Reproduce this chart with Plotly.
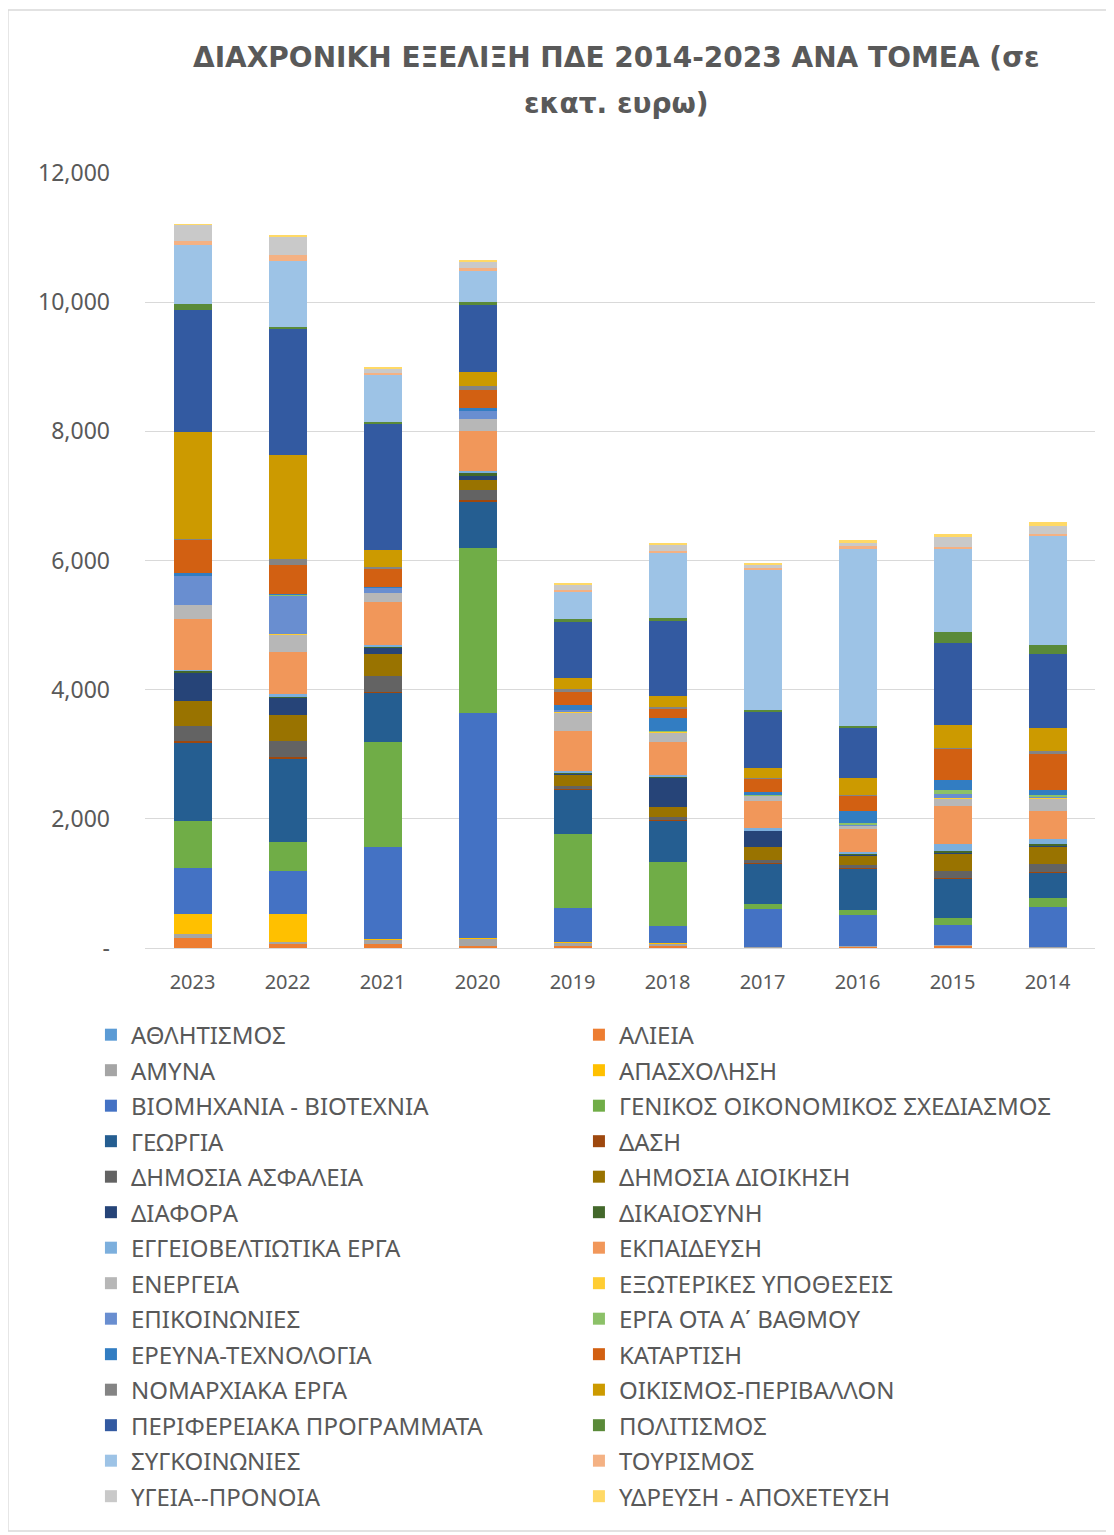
import plotly.graph_objects as go

years = ["2023", "2022", "2021", "2020", "2019", "2018", "2017", "2016", "2015", "2014"]

athlitismos = [5, 5, 3, 3, 3, 3, 5, 3, 5, 3]
alieia = [155, 52, 52, 26, 26, 41, 10, 26, 41, 10]
amyna = [62, 36, 77, 119, 62, 26, 5, 5, 5, 5]
apasxolisi = [310, 439, 10, 10, 5, 5, 3, 3, 3, 3]
viomixania = [700, 660, 1429, 3478, 516, 258, 583, 480, 299, 614]
genikos = [733, 449, 1620, 2559, 1150, 991, 72, 77, 119, 144]
georgia = [1213, 1295, 759, 707, 686, 645, 635, 640, 609, 387]
dasi = [25, 25, 15, 31, 20, 10, 10, 10, 10, 10]
dim_asfaleia = [232, 243, 248, 155, 41, 52, 41, 41, 108, 119]
dim_dioikisi = [382, 408, 341, 165, 165, 160, 206, 144, 268, 284]
diafora = [454, 258, 93, 52, 31, 449, 243, 20, 15, 15]
dikaiosyni = [25, 31, 20, 62, 20, 20, 5, 10, 26, 10]
eggeiovelt = [15, 25, 20, 15, 20, 26, 36, 31, 103, 83]
ekpaidefsi = [780, 655, 676, 619, 614, 500, 428, 346, 583, 433]
energeia = [222, 273, 134, 191, 284, 155, 77, 57, 119, 186]
exoterikes = [5, 5, 5, 5, 26, 5, 3, 5, 5, 31]
epikoinonies = [449, 604, 77, 129, 20, 5, 5, 5, 67, 5]
erga_ota = [5, 5, 3, 3, 3, 3, 3, 36, 67, 20]
erevna = [30, 20, 15, 26, 72, 201, 52, 181, 144, 88]
katartisi = [526, 449, 268, 289, 201, 155, 196, 248, 500, 557]
nomarxiaka = [5, 88, 41, 52, 41, 15, 20, 5, 5, 36]
oikismos = [1662, 1610, 253, 217, 181, 170, 144, 253, 346, 361]
perifereiaka = [1889, 1950, 1950, 1058, 862, 1176, 867, 779, 1275, 1150]
politismos = [88, 36, 36, 26, 41, 41, 36, 31, 175, 139]
sygkoinonies = [918, 1022, 728, 490, 423, 1011, 2167, 2755, 1275, 1687]
tourismos = [52, 93, 26, 36, 26, 31, 31, 26, 36, 36]
ygeia = [258, 279, 77, 113, 83, 88, 62, 52, 155, 119]
ydrefsi = [10, 20, 20, 15, 20, 15, 15, 41, 46, 67]

y_tickvals = [0, 2000, 4000, 6000, 8000, 10000, 12000]
y_ticktext = ["-", "2,000", "4,000", "6,000", "8,000", "10,000", "12,000"]

series = [
    ("ΑΘΛΗΤΙΣΜΟΣ", athlitismos, "#5B9BD5"),
    ("ΑΛΙΕΙΑ", alieia, "#ED7D31"),
    ("ΑΜΥΝΑ", amyna, "#A5A5A5"),
    ("ΑΠΑΣΧΟΛΗΣΗ", apasxolisi, "#FFC000"),
    ("ΒΙΟΜΗΧΑΝΙΑ - ΒΙΟΤΕΧΝΙΑ", viomixania, "#4472C4"),
    ("ΓΕΝΙΚΟΣ ΟΙΚΟΝΟΜΙΚΟΣ ΣΧΕΔΙΑΣΜΟΣ", genikos, "#70AD47"),
    ("ΓΕΩΡΓΙΑ", georgia, "#255E91"),
    ("ΔΑΣΗ", dasi, "#9E480E"),
    ("ΔΗΜΟΣΙΑ ΑΣΦΑΛΕΙΑ", dim_asfaleia, "#636363"),
    ("ΔΗΜΟΣΙΑ ΔΙΟΙΚΗΣΗ", dim_dioikisi, "#997300"),
    ("ΔΙΑΦΟΡΑ", diafora, "#264478"),
    ("ΔΙΚΑΙΟΣΥΝΗ", dikaiosyni, "#43682B"),
    ("ΕΓΓΕΙΟΒΕΛΤΙΩΤΙΚΑ ΕΡΓΑ", eggeiovelt, "#7CAFDD"),
    ("ΕΚΠΑΙΔΕΥΣΗ", ekpaidefsi, "#F1975A"),
    ("ΕΝΕΡΓΕΙΑ", energeia, "#B7B7B7"),
    ("ΕΞΩΤΕΡΙΚΕΣ ΥΠΟΘΕΣΕΙΣ", exoterikes, "#FFCD33"),
    ("ΕΠΙΚΟΙΝΩΝΙΕΣ", epikoinonies, "#698ED0"),
    ("ΕΡΓΑ ΟΤΑ Α΄ ΒΑΘΜΟΥ", erga_ota, "#8CC168"),
    ("ΕΡΕΥΝΑ-ΤΕΧΝΟΛΟΓΙΑ", erevna, "#327DC2"),
    ("ΚΑΤΑΡΤΙΣΗ", katartisi, "#D26012"),
    ("ΝΟΜΑΡΧΙΑΚΑ ΕΡΓΑ", nomarxiaka, "#848484"),
    ("ΟΙΚΙΣΜΟΣ-ΠΕΡΙΒΑΛΛΟΝ", oikismos, "#CC9A00"),
    ("ΠΕΡΙΦΕΡΕΙΑΚΑ ΠΡΟΓΡΑΜΜΑΤΑ", perifereiaka, "#335AA1"),
    ("ΠΟΛΙΤΙΣΜΟΣ", politismos, "#5A8A39"),
    ("ΣΥΓΚΟΙΝΩΝΙΕΣ", sygkoinonies, "#9DC3E6"),
    ("ΤΟΥΡΙΣΜΟΣ", tourismos, "#F4B183"),
    ("ΥΓΕΙΑ--ΠΡΟΝΟΙΑ", ygeia, "#C9C9C9"),
    ("ΥΔΡΕΥΣΗ - ΑΠΟΧΕΤΕΥΣΗ", ydrefsi, "#FFD966"),
]

FONT = "Noto Sans"
TXT = "#595959"

fig = go.Figure()
for name, vals, col in series:
    fig.add_trace(go.Bar(
        x=years, y=vals, name='<span style="font-size:24px">' + name + '</span>',
        marker=dict(color=col, line=dict(width=0)),
    ))

# plot area in reference pixels: x 145..1095, y 173..948 (page body has an 8px margin)
fig.update_layout(
    width=1106, height=1527,
    barmode="stack", bargap=0.6,
    paper_bgcolor="white", plot_bgcolor="white",
    margin=dict(l=137, r=19, t=165, b=587, autoexpand=False),
    font=dict(family=FONT, color=TXT),
    showlegend=True,
    legend=dict(
        orientation="h", traceorder="normal",
        x=-0.0569, xanchor="left", y=-0.0825, yanchor="top",
        entrywidth=443, entrywidthmode="pixels",
        font=dict(family=FONT, size=25, color=TXT),
        bgcolor="rgba(0,0,0,0)",
    ),
    xaxis=dict(
        type="category", showgrid=False, showline=True, linecolor="#D9D9D9", linewidth=1.3,
        ticks="", tickfont=dict(family=FONT, size=20, color=TXT), ticklabelstandoff=16,
    ),
    yaxis=dict(
        range=[0, 12000], tickvals=y_tickvals, ticktext=y_ticktext,
        showgrid=True, gridcolor="#D9D9D9", gridwidth=1.3, zeroline=False, showline=False,
        ticks="", tickfont=dict(family=FONT, size=23, color=TXT), ticklabelstandoff=34,
    ),
    annotations=[
        dict(text="<b>ΔΙΑΧΡΟΝΙΚΗ ΕΞΕΛΙΞΗ ΠΔΕ 2014-2023 ΑΝΑ ΤΟΜΕΑ (σε</b>",
             xref="paper", yref="paper", x=(616 - 145) / 950, y=(948 - 57) / 775,
             xanchor="center", yanchor="middle", showarrow=False,
             font=dict(family="DejaVu Sans", size=28, color=TXT)),
        dict(text="<b>εκατ. ευρω)</b>",
             xref="paper", yref="paper", x=(616 - 145) / 950, y=(948 - 103) / 775,
             xanchor="center", yanchor="middle", showarrow=False,
             font=dict(family="DejaVu Sans", size=28, color=TXT)),
    ],
    shapes=[
        dict(type="rect", xref="paper", yref="paper",
             x0=(8 - 145) / 950, x1=(1110 - 145) / 950,
             y0=(948 - 1531) / 775, y1=(948 - 10) / 775,
             line=dict(color="#D9D9D9", width=1.3), fillcolor="rgba(0,0,0,0)", layer="below"),
    ],
)

fig.write_html("out.html")
